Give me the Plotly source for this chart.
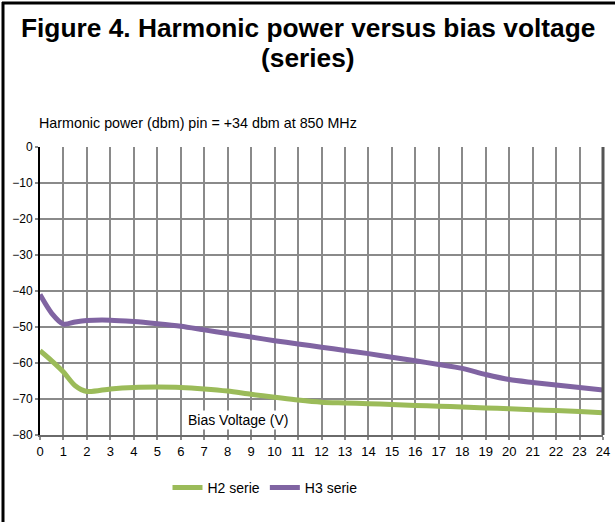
import plotly.graph_objects as go

bias_v = [0, 0.5, 1, 1.5, 2, 3, 4, 5, 6, 7, 8, 9, 10, 11, 12, 13, 14, 15, 16, 17, 18, 19, 20, 21, 22, 23, 24]
h2_serie = [-56.6, -59.4, -62.5, -66.3, -67.9, -67.2, -66.8, -66.7, -66.8, -67.2, -67.8, -68.7, -69.5, -70.3, -70.9, -71.1, -71.3, -71.5, -71.8, -72.0, -72.2, -72.5, -72.7, -73.0, -73.2, -73.5, -73.8]
h3_serie = [-41.0, -46.2, -49.2, -48.6, -48.2, -48.1, -48.5, -49.1, -49.8, -50.8, -51.8, -52.8, -53.8, -54.7, -55.6, -56.5, -57.4, -58.4, -59.4, -60.4, -61.5, -63.2, -64.6, -65.4, -66.1, -66.8, -67.5]
x_ticks = list(range(0, 25))
y_ticks = list(range(-80, 10, 10))

W, H = 615, 522
L, R, T, B = 40, 12, 147, 87
pw, ph = W - L - R, H - T - B

def px_x(p):
    return (p - L) / pw

def px_y(p):
    return (H - B - p) / ph

grid_color = "#8a8a8a"

fig = go.Figure()
fig.add_trace(go.Scatter(x=bias_v, y=h2_serie, mode="lines", name="H2 serie",
                         line=dict(color="#9BBB59", width=5, shape="spline", smoothing=0.8)))
fig.add_trace(go.Scatter(x=bias_v, y=h3_serie, mode="lines", name="H3 serie",
                         line=dict(color="#8064A2", width=5, shape="spline", smoothing=0.8)))

shapes = [
    dict(type="line", xref="paper", yref="paper", x0=1, x1=1, y0=0, y1=1,
         line=dict(color="#555555", width=3)),
    dict(type="line", xref="paper", yref="paper", x0=px_x(3), x1=px_x(3), y0=px_y(2), y1=px_y(522),
         line=dict(color="black", width=3)),
    dict(type="line", xref="paper", yref="paper", x0=px_x(2), x1=px_x(615), y0=px_y(3), y1=px_y(3),
         line=dict(color="black", width=3)),
]

font = "Liberation Sans, Arial, sans-serif"
fig.update_layout(
    template="none",
    width=W, height=H,
    margin=dict(l=L, r=R, t=T, b=B, autoexpand=False),
    paper_bgcolor="white", plot_bgcolor="white",
    font=dict(family=font, size=12, color="black"),
    showlegend=True,
    legend=dict(orientation="h", x=px_x(265), xanchor="center", y=px_y(488), yanchor="middle",
                font=dict(size=14), itemwidth=30, tracegroupgap=0, bgcolor="rgba(0,0,0,0)"),
    xaxis=dict(range=[0, 24], tickmode="array", tickvals=x_ticks, showgrid=True, gridcolor=grid_color, gridwidth=2,
               showline=True, linecolor="#6a6a6a", linewidth=2, ticks="outside", ticklen=3,
               tickcolor=grid_color, tickwidth=2, tickfont=dict(size=13), zeroline=False,
               fixedrange=True, automargin=False),
    yaxis=dict(range=[-80, 0], tickmode="array", tickvals=y_ticks, showgrid=True,
               gridcolor=grid_color, gridwidth=2,
               showline=True, linecolor="black", linewidth=2, ticks="outside", ticklen=3,
               tickcolor=grid_color, tickwidth=2, tickfont=dict(size=12), zeroline=False,
               fixedrange=True, automargin=False),
    annotations=[
        dict(text="<b>Figure 4. Harmonic power versus bias voltage</b>", x=px_x(308), y=px_y(28),
             xref="paper", yref="paper", showarrow=False, font=dict(size=26.3), xanchor="center", yanchor="middle"),
        dict(text="<b>(series)</b>", x=px_x(308), y=px_y(58),
             xref="paper", yref="paper", showarrow=False, font=dict(size=26.3), xanchor="center", yanchor="middle"),
        dict(text="Harmonic power (dbm) pin = +34 dbm at 850 MHz", x=px_x(37), y=px_y(123),
             xref="paper", yref="paper", showarrow=False, font=dict(size=14.3), xanchor="left", yanchor="middle"),
        dict(text="Bias Voltage (V)", x=8.44, y=-75.8, xref="x", yref="y", showarrow=False,
             font=dict(size=14), bgcolor="white", xanchor="center", yanchor="middle", borderpad=1),
    ],
    shapes=shapes,
)

fig.write_html("out.html", config={"displayModeBar": False},
               post_script="document.body.style.margin='0';document.body.style.overflow='hidden';")
